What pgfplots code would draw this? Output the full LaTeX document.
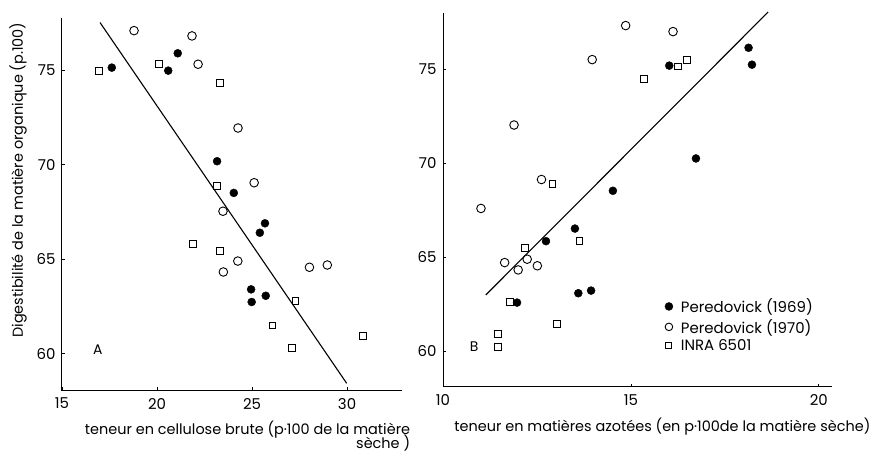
\documentclass[border=0pt]{standalone}
\usepackage{fontspec}
\setmainfont{Poppins}
\usepackage{pgfplots}
\pgfplotsset{compat=1.18}

\pgfplotsset{
  pan/.style={
    scale only axis,
    anchor=south west,
    axis lines=left,
    axis line style={-, line width=1bp},
    tick align=inside,
    major tick length=3bp,
    tick style={line width=0.8bp, black},
    ticklabel style={font=\fontsize{15}{15}\selectfont},
    /pgf/number format/assume math mode=true,
    label style={font=\fontsize{14.5}{16}\selectfont},
    clip=false,
  },
  ferme/.style={only marks, mark=*, mark size=4bp, mark options={fill=black, draw=black}},
  ouvert/.style={only marks, mark=o, mark size=4.3bp, mark options={fill=white, draw=black, line width=0.9bp}},
  carre/.style={only marks, mark=square, mark size=3.4bp, mark options={fill=white, draw=black, line width=0.9bp}},
}

\begin{document}
\begin{tikzpicture}
\useasboundingbox (0bp,0bp) rectangle (870bp,452bp);

% A : cellulose brute
\begin{axis}[pan, at={(62bp,61.5bp)}, width=340bp, height=372.5bp,
  xmin=15, xmax=32.89, ymin=58.04, ymax=77.78,
  xtick={15,20,25,30}, ytick={60,65,70,75},
  yticklabel style={xshift=-3bp}, xticklabel style={yshift=-4bp},
  ylabel={Digestibilité de la matière organique (p.100)},
  ylabel style={at={(axis description cs:-0.129,0.565)}, anchor=center},
  xlabel={teneur en cellulose brute (p·100 de la matière\\[-4bp]sèche )},
  xlabel style={at={(axis description cs:0.5456,-0.122)}, anchor=center, align=right},
]
\addplot[black, line width=1.1bp] coordinates {(17.0,77.54) (29.98,58.42)};
\addplot[carre] coordinates {
  (16.93,74.96) (20.09,75.36) (23.32,74.35) (23.14,68.89) (21.91,65.79)
  (23.32,65.43) (27.28,62.80) (26.07,61.49) (27.12,60.28) (30.84,60.91)};
\addplot[ouvert] coordinates {
  (18.79,77.11) (21.84,76.83) (22.16,75.33) (24.26,71.95) (25.11,69.05)
  (23.47,67.54) (24.25,64.90) (23.49,64.32) (28.02,64.57) (28.96,64.69)};
\addplot[ferme] coordinates {
  (17.62,75.15) (21.09,75.91) (20.59,74.99) (23.16,70.19) (24.04,68.51)
  (25.68,66.90) (25.41,66.40) (24.95,63.40) (24.98,62.73) (25.72,63.06)};
\node[font=\fontsize{14}{14}\selectfont] at (axis cs:16.88,60.2) {A};
\end{axis}

% B : matieres azotees
\begin{axis}[pan, at={(443bp,65bp)}, width=389bp, height=374bp,
  xmin=10, xmax=20.35, ymin=58.08, ymax=77.98,
  xtick={10,15,20}, ytick={60,65,70,75},
  yticklabel style={xshift=-3bp}, xticklabel style={yshift=-4bp},
  xlabel={teneur en matières azotées (en p·100de la matière sèche)},
  xlabel style={at={(axis description cs:0.564,-0.107)}, anchor=center},
  legend style={draw=none, fill=none, at={(axis cs:15.82,63.0)}, anchor=north west,
    font=\fontsize{15}{17}\selectfont, row sep=1bp,
    /tikz/every odd column/.append style={column sep=6bp}},
  legend cell align=left,
]
\addplot[black, line width=1.1bp, forget plot] coordinates {(11.14,62.98) (18.65,78.03)};
\addplot[carre, forget plot] coordinates {
  (16.50,75.50) (16.26,75.14) (15.34,74.47) (12.91,68.88) (13.63,65.84)
  (12.18,65.47) (11.78,62.59) (13.04,61.44) (11.46,60.89) (11.46,60.21)};
\addplot[ouvert, forget plot] coordinates {
  (14.86,77.31) (16.12,76.99) (13.97,75.50) (11.89,72.02) (12.62,69.12)
  (11.01,67.58) (11.64,64.70) (12.24,64.88) (12.00,64.31) (12.51,64.53)};
\addplot[ferme] coordinates {
  (18.13,76.13) (18.22,75.23) (16.02,75.18) (16.73,70.24) (14.52,68.52)
  (13.51,66.51) (12.74,65.84) (13.60,63.07) (13.94,63.21) (11.97,62.57)};
\addlegendentry{Peredovick (1969)}
\addlegendimage{ouvert, mark size=3.8bp}
\addlegendentry{Peredovick (1970)}
\addlegendimage{carre, mark size=3bp}
\addlegendentry{INRA 6501}
\node[font=\fontsize{14}{14}\selectfont] at (axis cs:10.83,60.23) {B};
\end{axis}
\end{tikzpicture}
\end{document}
